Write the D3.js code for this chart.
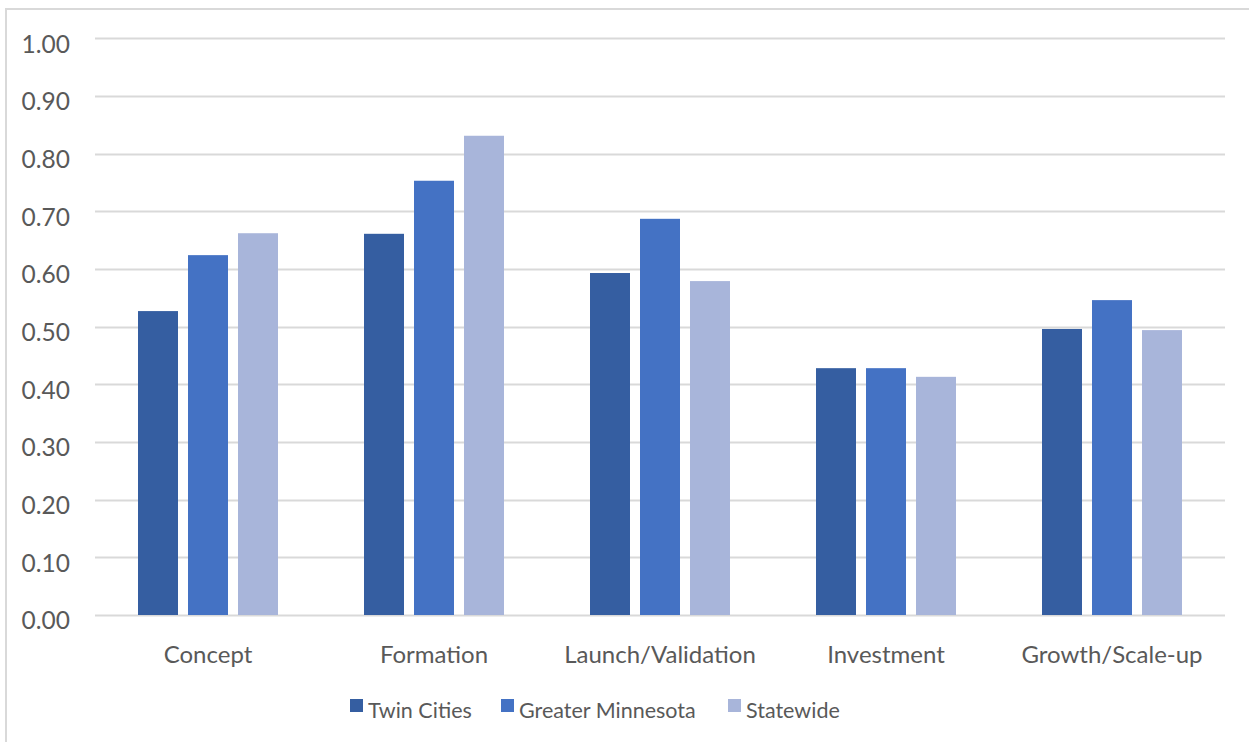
<!DOCTYPE html>
<html>
<head>
<meta charset="utf-8">
<script src="https://cdn.jsdelivr.net/npm/d3@7"></script>
<style>
  html, body { margin: 0; padding: 0; background: #ffffff; }
  svg { display: block; }
  text { font-family: Lato, "Open Sans", sans-serif; fill: #595959; }
</style>
</head>
<body>
<svg id="chart" width="1249" height="742"></svg>
<script>
// Stage categories along the x axis
const categories = ["Concept", "Formation", "Launch/Validation", "Investment", "Growth/Scale-up"];
// Series names and colours
const seriesNames = ["Twin Cities", "Greater Minnesota", "Statewide"];
const seriesColors = ["#355EA1", "#4472C4", "#A8B5DA"];
// Values per series, in category order
const twinCities = [0.527, 0.661, 0.593, 0.428, 0.496];
const greaterMinnesota = [0.624, 0.753, 0.687, 0.428, 0.546];
const statewide = [0.662, 0.831, 0.579, 0.413, 0.494];
// Y axis ticks
const yTicks = [0, 0.1, 0.2, 0.3, 0.4, 0.5, 0.6, 0.7, 0.8, 0.9, 1.0];

const seriesValues = [twinCities, greaterMinnesota, statewide];

const svg = d3.select("#chart");
const W = 1249, H = 742;

// Outer chart frame (top and left edges visible)
svg.append("line").attr("x1", 6).attr("x2", W).attr("y1", 9).attr("y2", 9)
  .attr("stroke", "#d9d9d9").attr("stroke-width", 2);
svg.append("line").attr("x1", 6).attr("x2", 6).attr("y1", 8).attr("y2", H)
  .attr("stroke", "#d9d9d9").attr("stroke-width", 2);

const plot = { left: 95, right: 1225, top: 38.3, bottom: 615 };

const x0 = d3.scaleBand().domain(categories).range([plot.left, plot.right]).paddingInner(0).paddingOuter(0);
const y = d3.scaleLinear().domain([0, 1]).range([plot.bottom, plot.top]);

const barW = 40, barGap = 10;
const x1 = d3.scaleBand().domain(seriesNames)
  .range([-(barW * 1.5 + barGap), barW * 1.5 + barGap]).paddingInner(barGap / (barW + barGap)).paddingOuter(0);

// Gridlines
svg.append("g").selectAll("line").data(yTicks).join("line")
  .attr("x1", plot.left).attr("x2", plot.right)
  .attr("y1", d => Math.round(y(d)) + 0.5).attr("y2", d => Math.round(y(d)) + 0.5)
  .attr("stroke", "#d9d9d9").attr("stroke-width", 2);

// Y axis labels
const yAxis = d3.axisLeft(y).tickValues(yTicks).tickFormat(d3.format(".2f")).tickSize(0).tickPadding(0);
const gy = svg.append("g").attr("transform", `translate(${70},0)`).call(yAxis);
gy.select(".domain").remove();
gy.selectAll("text").attr("font-size", 24.5).attr("dy", "0.56em")
  .style("font-family", "Lato, sans-serif").attr("fill", "#595959");

// Bars
const groups = svg.append("g").selectAll("g").data(categories).join("g")
  .attr("transform", d => `translate(${x0(d) + x0.bandwidth() / 2},0)`);
groups.selectAll("rect")
  .data((c, i) => seriesNames.map((s, k) => ({ s, k, v: seriesValues[k][i] })))
  .join("rect")
  .attr("x", d => x1(d.s))
  .attr("width", x1.bandwidth())
  .attr("y", d => y(d.v))
  .attr("height", d => y(0) - y(d.v))
  .attr("fill", d => seriesColors[d.k]);

// X axis labels
const xAxis = d3.axisBottom(x0).tickSize(0).tickPadding(0);
const gx = svg.append("g").attr("transform", `translate(0,${663})`).call(xAxis);
gx.select(".domain").remove();
gx.selectAll("text").attr("font-size", 24).attr("dy", 0)
  .style("font-family", "Lato, sans-serif").attr("fill", "#595959");

// Legend
const legendX = [350, 501, 728];
const legend = svg.append("g").selectAll("g").data(seriesNames).join("g")
  .attr("transform", (d, i) => `translate(${legendX[i]},699)`);
legend.append("rect").attr("width", 13).attr("height", 13).attr("fill", (d, i) => seriesColors[i]);
legend.append("text").attr("x", 18).attr("y", 19).attr("font-size", 21.5).text(d => d);
</script>
</body>
</html>
